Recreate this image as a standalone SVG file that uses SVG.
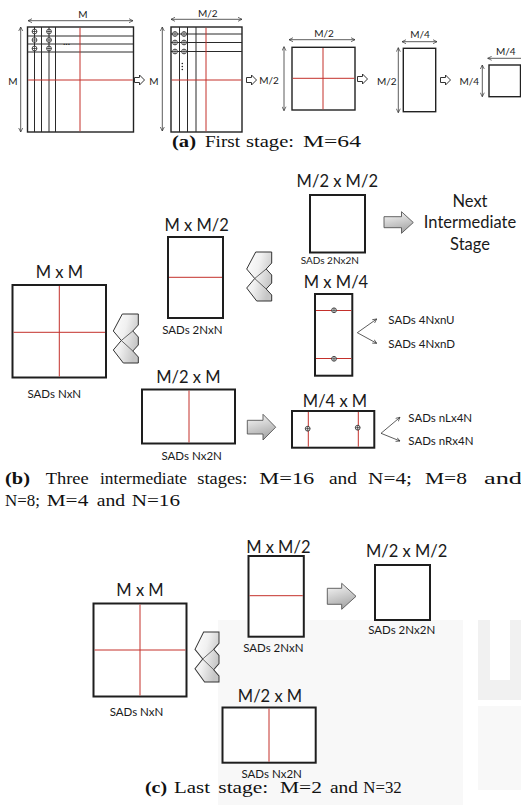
<svg xmlns="http://www.w3.org/2000/svg" width="521" height="809" viewBox="0 0 521 809">
<style>
.bg{fill:#ffffff}
.wm{fill:#f8f8f8}
.wm2{fill:#f1f1f1}
.sq{fill:#ffffff;stroke:#222;stroke-width:1.4}
.bx{fill:#ffffff;stroke:#1e1e1e;stroke-width:2}
.ln{stroke:#2a2a2a;stroke-width:1;fill:none}
.rd{stroke:#c4302b;stroke-width:1;fill:none}
.dim{stroke:#333;stroke-width:0.8;fill:none;marker-start:url(#oa);marker-end:url(#oa)}
.con{stroke:#333;stroke-width:0.8;fill:none;marker-end:url(#oa)}
.pl{fill:#ffffff;stroke:#222;stroke-width:0.8}
.ha{fill:#ffffff;stroke:#333;stroke-width:1}
.ba{fill:url(#gba);stroke:#555;stroke-width:0.9}
.zz{fill:url(#gzz);stroke:#333;stroke-width:1;stroke-linejoin:miter}
.zi{fill:none;stroke:#444;stroke-width:0.8}
.lb{font-family:Lato,"Open Sans","DejaVu Sans",sans-serif;fill:#1a1a1a}
.dl{font-size:10px;text-anchor:middle}
.tt{font-size:16.5px;text-anchor:middle}
.sd{font-size:11.5px;text-anchor:middle}
.sl{font-size:11.5px}
.cp{font-family:"Liberation Serif","Times New Roman",serif;font-size:17px;fill:#111}
.b{font-weight:bold}
</style>
<defs>
<marker id="oa" viewBox="0 0 10 10" refX="9" refY="5" markerUnits="userSpaceOnUse" markerWidth="5" markerHeight="5" orient="auto-start-reverse">
<path d="M1,1 L9,5 L1,9" fill="none" stroke="#333" stroke-width="1.4"/>
</marker>
<linearGradient id="gba" x1="0" y1="0" x2="0.3" y2="1">
<stop offset="0" stop-color="#fbfbfb"/>
<stop offset="1" stop-color="#a9a9a9"/>
</linearGradient>
<linearGradient id="gzz" x1="0" y1="0" x2="1" y2="0.5">
<stop offset="0" stop-color="#ffffff"/>
<stop offset="0.5" stop-color="#f0f0f0"/>
<stop offset="1" stop-color="#c6c6c6"/>
</linearGradient>
<g id="zzg">
<path class="zz" d="M9,0 L25,0 L25,11 L19.5,17 L25,23 L25,31 L19.5,37 L25,43 L25,49 L10,49 L0,36 L8,26.5 L0,17 Z"/>
<path class="zi" d="M19.5,17 L8,26.5 L19.5,37"/>
</g>
<g id="plus"><circle r="2.4" class="pl"/><path d="M-2.4,0 H2.4 M0,-2.4 V2.4" stroke="#222" stroke-width="0.7"/></g>
<path id="hap" d="M0,-2.5 H5 V-5 L10,0 L5,5 V2.5 H0 Z"/>
</defs>
<rect class="bg" x="0" y="0" width="521" height="809"/>

<g id="watermark">
<rect class="wm" x="218" y="620" width="245" height="185"/>
<path class="wm2" d="M478,620 H521 V700 H478 Z M490,620 V680 H510 V620 Z" fill-rule="evenodd"/>
<path class="wm" d="M478,706 H521 V790 H478 Z"/>
</g>

<!-- Stage (a) -->
<g id="a-block1">
<rect class="sq" x="27.5" y="27" width="106" height="105"/>
<path class="ln" d="M34.5,27V132 M41.5,27V132 M49,27V132 M55.5,27V132 M27.5,36H133.5 M27.5,44H133.5 M27.5,52H133.5"/>
<path class="rd" d="M80,27.7V131.3 M28.2,80H132.8"/>
<use href="#plus" x="34.5" y="31.5"/><use href="#plus" x="49" y="31.5"/>
<use href="#plus" x="34.5" y="40"/><use href="#plus" x="49" y="40"/>
<use href="#plus" x="34.5" y="48.5"/><use href="#plus" x="49" y="48.5"/>
<text class="lb dl" x="66.5" y="45">...</text>
</g>
<g id="a-block2">
<rect class="sq" x="171" y="27" width="71" height="105"/>
<path class="ln" d="M179.5,27V132 M187.5,27V132 M196,27V132 M171,34H242 M171,42.5H242 M171,51.5H242"/>
<path class="rd" d="M206,27.7V131.3 M171.7,80H241.3"/>
<use href="#plus" x="175" y="34"/><use href="#plus" x="184" y="34"/>
<use href="#plus" x="175" y="42.5"/><use href="#plus" x="184" y="42.5"/>
<use href="#plus" x="175" y="51.5"/><use href="#plus" x="184" y="51.5"/>
<circle cx="182.3" cy="63.5" r="0.8" fill="#222"/><circle cx="182.3" cy="66.5" r="0.8" fill="#222"/><circle cx="182.3" cy="69.5" r="0.8" fill="#222"/>
</g>
<g id="a-block3">
<rect class="sq" x="292" y="47.3" width="63" height="62.7"/>
<path class="rd" d="M323,48V109.3 M292.7,78.3H354.3"/>
</g>
<g id="a-block4">
<rect class="sq" x="403.3" y="48.3" width="32.4" height="63.4"/>
</g>
<g id="a-block5">
<rect class="sq" x="489" y="65" width="31.5" height="31.7"/>
</g>
<g id="a-dimensions">
<line class="dim" x1="28" y1="20.7" x2="133" y2="20.7"/>
<text class="lb dl" x="83" y="18.3">M</text>
<line class="dim" x1="20.7" y1="27" x2="20.7" y2="132"/>
<text class="lb dl" x="13" y="84.5">M</text>
<line class="dim" x1="171" y1="19.3" x2="242" y2="19.3"/>
<text class="lb dl" x="207.7" y="17">M/2</text>
<line class="dim" x1="162.3" y1="27" x2="162.3" y2="131"/>
<text class="lb dl" x="154" y="84.5">M</text>
<line class="dim" x1="289" y1="39.7" x2="355" y2="39.7"/>
<text class="lb dl" x="324" y="36.5">M/2</text>
<line class="dim" x1="284" y1="46.7" x2="284" y2="110.7"/>
<text class="lb dl" x="269" y="83.5">M/2</text>
<line class="dim" x1="402" y1="41.7" x2="437" y2="41.7"/>
<text class="lb dl" x="420" y="37.5">M/4</text>
<line class="dim" x1="398.3" y1="47.7" x2="398.3" y2="112.7"/>
<text class="lb dl" x="386.7" y="84.5">M/2</text>
<line class="dim" x1="487.7" y1="58.3" x2="525" y2="58.3"/>
<text class="lb dl" x="505.7" y="55">M/4</text>
<line class="dim" x1="482.3" y1="65" x2="482.3" y2="96.7"/>
<text class="lb dl" x="469.3" y="84.5">M/4</text>
</g>
<g id="a-arrows">
<use href="#hap" class="ha" x="134.5" y="80"/>
<use href="#hap" class="ha" x="246.5" y="80"/>
<use href="#hap" class="ha" x="357.5" y="79"/>
<use href="#hap" class="ha" x="440.5" y="80"/>
</g>
<text class="cp" y="147"><tspan class="b" x="172" textLength="24" lengthAdjust="spacingAndGlyphs">(a)</tspan><tspan x="205" textLength="35" lengthAdjust="spacingAndGlyphs">First</tspan><tspan x="246" textLength="48" lengthAdjust="spacingAndGlyphs">stage:</tspan><tspan x="303" textLength="58" lengthAdjust="spacingAndGlyphs">M=64</tspan></text>

<!-- Stage (b) -->
<g id="b-MxM">
<text class="lb tt" x="59.3" y="278.3">M x M</text>
<rect class="bx" x="12.5" y="285" width="93.5" height="92.5"/>
<path class="rd" d="M59.3,286V376.5 M13.5,332.3H105"/>
<text class="lb sd" x="54.3" y="397.5">SADs NxN</text>
</g>
<g id="b-MxM2">
<text class="lb tt" x="196.7" y="230.7">M x M/2</text>
<rect class="bx" x="168" y="237" width="55" height="81"/>
<path class="rd" d="M169,277.3H222"/>
<text class="lb sd" x="192.3" y="333.5">SADs 2NxN</text>
</g>
<g id="b-M2xM">
<text class="lb tt" x="188.3" y="383.3">M/2 x M</text>
<rect class="bx" x="142" y="389.5" width="93" height="54"/>
<path class="rd" d="M189,390.5V442.5"/>
<text class="lb sd" x="191.7" y="460">SADs Nx2N</text>
</g>
<g id="b-M2xM2">
<text class="lb tt" x="337.3" y="187.3">M/2 x M/2</text>
<rect class="bx" x="310" y="195" width="55" height="57.5"/>
<text class="lb" x="329.8" y="264" font-size="10" text-anchor="middle">SADs 2Nx2N</text>
</g>
<g id="b-next">
<text class="lb tt" x="470" y="207">Next</text>
<text class="lb tt" x="470" y="228.3">Intermediate</text>
<text class="lb tt" x="470" y="249.5">Stage</text>
</g>
<g id="b-MxM4">
<text class="lb tt" x="336" y="288.3">M x M/4</text>
<rect class="bx" x="315" y="294" width="37.3" height="81.7"/>
<path class="rd" d="M316,310.5H351.3 M316,358.5H351.3"/>
<use href="#plus" x="334" y="310.3"/>
<use href="#plus" x="334" y="358.8"/>
<text class="lb sl" x="388.3" y="324.3">SADs 4NxnU</text>
<text class="lb sl" x="388.3" y="348.3">SADs 4NxnD</text>
</g>
<g id="b-M4xM">
<text class="lb tt" x="335" y="406.5">M/4 x M</text>
<rect class="bx" x="292" y="411" width="82.3" height="36.7"/>
<path class="rd" d="M308.3,412V446.7 M358.3,412V446.7"/>
<use href="#plus" x="307.7" y="428.7"/>
<use href="#plus" x="357.7" y="427.7"/>
<text class="lb sl" x="408.3" y="421.5">SADs nLx4N</text>
<text class="lb sl" x="408.3" y="445.3">SADs nRx4N</text>
</g>
<text class="cp" y="484"><tspan class="b" x="5" textLength="25" lengthAdjust="spacingAndGlyphs">(b)</tspan><tspan x="45.7" textLength="43" lengthAdjust="spacingAndGlyphs">Three</tspan><tspan x="100" textLength="87" lengthAdjust="spacingAndGlyphs">intermediate</tspan><tspan x="197.3" textLength="50" lengthAdjust="spacingAndGlyphs">stages:</tspan><tspan x="259.3" textLength="55" lengthAdjust="spacingAndGlyphs">M=16</tspan><tspan x="329" textLength="28" lengthAdjust="spacingAndGlyphs">and</tspan><tspan x="368" textLength="44" lengthAdjust="spacingAndGlyphs">N=4;</tspan><tspan x="425" textLength="42" lengthAdjust="spacingAndGlyphs">M=8</tspan><tspan x="484" textLength="38" lengthAdjust="spacingAndGlyphs">and</tspan></text>
<text class="cp" y="506"><tspan x="5" textLength="35" lengthAdjust="spacingAndGlyphs">N=8;</tspan><tspan x="46.7" textLength="41.6" lengthAdjust="spacingAndGlyphs">M=4</tspan><tspan x="96.7" textLength="28.3" lengthAdjust="spacingAndGlyphs">and</tspan><tspan x="131.7" textLength="48.3" lengthAdjust="spacingAndGlyphs">N=16</tspan></text>

<!-- Stage (c) -->
<g id="c-MxM">
<text class="lb tt" x="140" y="596">M x M</text>
<rect class="bx" x="93.5" y="603.5" width="93" height="93"/>
<path class="rd" d="M140,604.5V695.5 M94.5,650H185.5"/>
<text class="lb sd" x="136.5" y="716">SADs NxN</text>
</g>
<g id="c-MxM2">
<text class="lb tt" x="278.3" y="553">M x M/2</text>
<rect class="bx" x="248.5" y="556" width="55.3" height="80.7"/>
<path class="rd" d="M249.5,595.7H302.8"/>
<text class="lb sd" x="273.3" y="651.5">SADs 2NxN</text>
</g>
<g id="c-M2xM2">
<text class="lb tt" x="406.7" y="557">M/2 x M/2</text>
<rect class="bx" x="375" y="565" width="55" height="55"/>
<text class="lb sd" x="401.7" y="633.5">SADs 2Nx2N</text>
</g>
<g id="c-M2xM">
<text class="lb tt" x="270" y="701.7">M/2 x M</text>
<rect class="bx" x="222.5" y="707.5" width="93.2" height="55.2"/>
<path class="rd" d="M269,708.5V761.7"/>
<text class="lb sd" x="271.7" y="777.5">SADs Nx2N</text>
</g>
<text class="cp" y="793"><tspan class="b" x="145" textLength="22" lengthAdjust="spacingAndGlyphs">(c)</tspan><tspan x="174" textLength="36" lengthAdjust="spacingAndGlyphs">Last</tspan><tspan x="218.3" textLength="50" lengthAdjust="spacingAndGlyphs">stage:</tspan><tspan x="280" textLength="42" lengthAdjust="spacingAndGlyphs">M=2</tspan><tspan x="330" textLength="28" lengthAdjust="spacingAndGlyphs">and</tspan><tspan x="363.3" textLength="38.5" lengthAdjust="spacingAndGlyphs">N=32</tspan></text>

<!-- Connectors -->
<g id="connectors">
<path class="ba" d="M384,216.7H401.5V211.7L413.3,222.5L401.5,233.3V227.7H384Z"/>
<path class="ba" d="M247.3,420.3H263V414.3L275.7,427.2L263,440V434H247.3Z"/>
<path class="ba" d="M327.3,588.3H341.7V583.3L356,596.3L341.7,609.3V604.3H327.3Z"/>
<use href="#zzg" x="113.3" y="314"/>
<use href="#zzg" x="246.7" y="252"/>
<use href="#zzg" transform="translate(195,632) scale(0.96,1.02)"/>
<path class="con" d="M357.3,332.7L376.7,319"/>
<path class="con" d="M357.3,332.7L376.7,343.3"/>
<path class="con" d="M381,433.3L400,417.3"/>
<path class="con" d="M381,433.3L400,441"/>
</g>
</svg>
